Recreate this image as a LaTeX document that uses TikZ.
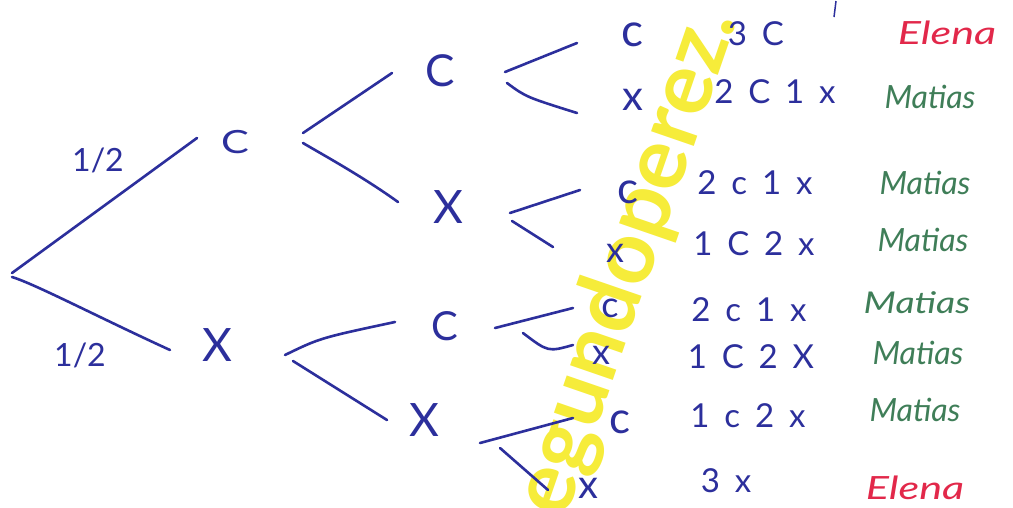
\documentclass[tikz,border=0pt]{standalone}
\usepackage{fontspec}
\setmainfont{Lato}
\usepackage{graphicx}
\definecolor{ink}{HTML}{2C2F9C}
\definecolor{redink}{HTML}{E2284A}
\definecolor{greenink}{HTML}{3F7E58}
\definecolor{hl}{HTML}{F6EC3A}
\newcommand{\gp}{\hspace{0.45em}}
\tikzset{
  hand/.style={inner sep=0pt, text=ink, font=\fontsize{#1}{#1}\selectfont},
  hand/.default=33,
  who/.style={inner sep=0pt, text=#1, font=\itshape\fontsize{32}{32}\selectfont},
  branch/.style={draw=ink, line width=2.6pt, line cap=round}
}
\begin{document}
\begin{tikzpicture}[x=1pt,y=-1pt]
\useasboundingbox[fill=white] (0,0) rectangle (1013,507);

% watermark
\node[inner sep=0pt, text=hl, rotate=71, font=\bfseries\fontsize{88}{88}\selectfont] (wm) at (628,262) {egundoperez.};

% nodes
\coordinate (r1) at (12,273);
\coordinate (r2) at (12,277);
\node[hand=32] (C1) at (235,142) {\scalebox{1.3}[1]{C}};
\node[hand=46] (X1) at (217,345) {X};
\node[hand=32] (h1) at (98,160) {1/2};
\node[hand=32] (h2) at (80,355) {1/2};

\node[hand=44] (C2) at (440,71) {C};
\node[hand=46] (X2) at (448,207) {X};
\node[hand=40] (C3) at (445,326) {C};
\node[hand=46] (X3) at (424,420) {X};

\node[hand=46] (l1) at (632,35) {c};
\node[hand=42] (l2) at (633,100) {x};
\node[hand=44] (l3) at (628,192) {c};
\node[hand=36] (l4) at (615,253) {x};
\node[hand=36] (l5) at (610,308) {c};
\node[hand=36] (l6) at (601,355) {x};
\node[hand=44] (l7) at (620,422) {c};
\node[hand=40] (l8) at (588,488) {x};

\node[hand] (o1) at (756,34) {3\gp C};
\node[hand] (o2) at (775,92) {2\gp C\gp 1\gp x};
\node[hand] (o3) at (755,183) {2\gp c\gp 1\gp x};
\node[hand] (o4) at (754,244) {1\gp C\gp 2\gp x};
\node[hand] (o5) at (749,310) {2\gp c\gp 1\gp x};
\node[hand] (o6) at (751,357) {1\gp C\gp 2\gp X};
\node[hand] (o7) at (748,416) {1\gp c\gp 2\gp x};
\node[hand] (o8) at (726,481) {3\gp x};

\node[who=redink] (n1) at (947,33) {\scalebox{1.35}[1]{Elena}};
\node[who=greenink] (n2) at (930,97) {Matias};
\node[who=greenink] (n3) at (925,183) {Matias};
\node[who=greenink] (n4) at (923,240) {Matias};
\node[who=greenink, font=\itshape\fontsize{30}{30}\selectfont] (n5) at (917,303) {\scalebox{1.25}[1]{Matias}};
\node[who=greenink] (n6) at (918,353) {Matias};
\node[who=greenink] (n7) at (915,410) {Matias};
\node[who=redink] (n8) at (915,488) {\scalebox{1.35}[1]{Elena}};

% branch end points
\coordinate (a1) at (197,138);
\coordinate (a2) at (170,350);
\coordinate (b1s) at (303,133); \coordinate (b1e) at (392,73);
\coordinate (b2s) at (303,143); \coordinate (b2e) at (398,202);
\coordinate (b3s) at (285,355); \coordinate (b3e) at (395,322);
\coordinate (b4s) at (293,361); \coordinate (b4e) at (387,420);
\coordinate (c1s) at (505,72);  \coordinate (c1e) at (577,43);
\coordinate (c2s) at (507,83);  \coordinate (c2e) at (577,113);
\coordinate (c3s) at (510,213); \coordinate (c3e) at (580,190);
\coordinate (c4s) at (512,221); \coordinate (c4e) at (553,247);
\coordinate (c5s) at (495,328); \coordinate (c5e) at (573,308);
\coordinate (c6s) at (523,333); \coordinate (c6e) at (573,345);
\coordinate (c7s) at (480,443); \coordinate (c7e) at (573,418);
\coordinate (c8s) at (500,448); \coordinate (c8e) at (548,490);

% connectors
\draw[branch] (r1) -- (a1);
\draw[branch] (r2) .. controls (35,284) and (100,318) .. (a2);
\draw[branch] (b1s) -- (b1e);
\draw[branch] (b2s) .. controls (318,152) and (362,176) .. (b2e);
\draw[branch] (b3s) .. controls (320,338) .. (b3e);
\draw[branch] (b4s) -- (b4e);
\draw[branch] (c1s) -- (c1e);
\draw[branch] (c2s) .. controls (526,97) .. (c2e);
\draw[branch] (c3s) -- (c3e);
\draw[branch] (c4s) -- (c4e);
\draw[branch] (c5s) -- (c5e);
\draw[branch] (c6s) .. controls (548,352) .. (c6e);
\draw[branch] (c7s) -- (c7e);
\draw[branch] (c8s) -- (c8e);

% stray tick at top
\coordinate (t1) at (836,1); \coordinate (t2) at (834,17);
\draw[draw=ink, line width=1.5pt] (t1) -- (t2);
\end{tikzpicture}
\end{document}
